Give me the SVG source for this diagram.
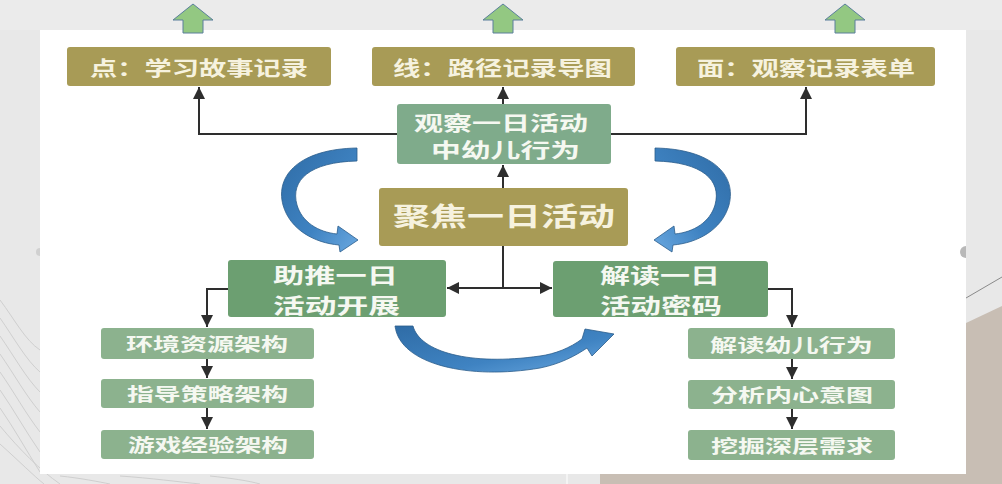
<svg xmlns="http://www.w3.org/2000/svg" width="1002" height="484" viewBox="0 0 1002 484">
<style>
.olive{fill:#a89b56;}
.obs{fill:#7fab8b;}
.mid{fill:#6c9f71;}
.small{fill:#8cb28e;}
.t{font-family:"Noto Sans CJK SC","Noto Sans",sans-serif;font-weight:bold;}
.tw{fill:#f6f2df;}
.tg{fill:#f5f8f1;}
.conn{fill:none;stroke:#2e2e2e;stroke-width:2;}
.up{fill:#93c882;stroke:#5a7f9c;stroke-width:1;}
.blue{fill:url(#bg);stroke:#2b5d8c;stroke-width:0.8;}
.tex{fill:none;stroke:#cfcfcf;stroke-width:1;}
</style>
<defs>
<marker id="ah" markerWidth="12" markerHeight="12" refX="12" refY="6" orient="auto" markerUnits="userSpaceOnUse">
<path d="M0,0 L12,6 L0,12 Z" fill="#2e2e2e"/>
</marker>
<linearGradient id="bg" x1="0" y1="0" x2="1" y2="1">
<stop offset="0" stop-color="#2f6ca6"/>
<stop offset="0.6" stop-color="#3f83c2"/>
<stop offset="1" stop-color="#6aa8e0"/>
</linearGradient>
<path id="curveL" d="M357,148 C300,149 275,175 283,205 C290,230 315,243 339,245 L340,252 L358,240 L338,226 L337,234 C318,232 302,222 297,205 C290,180 310,162 357,161 Z"/>
<path id="upArrow" d="M0,0 L20,16 L10,16 L10,29 L-10,29 L-10,16 L-20,16 Z"/>
</defs>

<!-- background -->
<rect x="0" y="0" width="1002" height="484" fill="#e8e8e8"/>
<rect x="0" y="0" width="1002" height="30" fill="#ebebeb"/>
<polygon points="966,323 1002,306 1002,484 966,484" fill="#c8beb4"/>
<line x1="966" y1="298" x2="1002" y2="277" stroke="#8a8a8a" stroke-width="1"/>
<rect x="600" y="474" width="402" height="10" fill="#c8beb4"/>
<line x1="567" y1="474" x2="567" y2="484" stroke="#f4f4f4" stroke-width="2"/>
<g id="texture">
<path class="tex" d="M0,300 C15,320 25,340 40,350"/>
<path class="tex" d="M0,318 C14,338 26,360 40,372"/>
<path class="tex" d="M0,336 C14,356 26,378 40,392"/>
<path class="tex" d="M0,354 C14,374 26,396 40,412"/>
<path class="tex" d="M0,372 C14,392 26,414 40,432"/>
<path class="tex" d="M0,390 C14,410 26,432 40,452"/>
<path class="tex" d="M0,408 C14,428 26,450 40,472"/>
<path class="tex" d="M0,426 C20,450 40,470 60,484"/>
<path class="tex" d="M0,444 C20,462 34,476 44,484"/>
<path class="tex" d="M60,476 C80,478 100,482 110,484"/>
<path class="tex" d="M120,476 C150,478 180,482 200,484"/>
<path class="tex" d="M210,476 C230,478 250,481 260,484"/>
</g>
<rect x="40" y="30" width="926" height="444" fill="#ffffff"/>
<path d="M966,246 A6,6 0 0,0 966,258 Z" fill="#b8b8b8"/>
<path d="M40,248 A4,4 0 0,0 40,256 Z" fill="#d0d0d0"/>

<!-- green up arrows -->
<use href="#upArrow" class="up" transform="translate(193,4)"/>
<use href="#upArrow" class="up" transform="translate(503,4)"/>
<use href="#upArrow" class="up" transform="translate(845,4)"/>

<!-- blue curved arrows -->
<g id="curves">
<use href="#curveL" class="blue"/>
<use href="#curveL" class="blue" transform="translate(1012,0) scale(-1,1)"/>
<path class="blue" d="M395,326 C400,365 470,380 540,368 C560,364 575,356 587,348 L592,356 L614,334 L585,329 L582,339 C570,348 555,354 540,356 C470,366 420,352 413,326 Z"/>
</g>

<!-- connectors -->
<g id="connectors">
<path class="conn" d="M397,134 H199 V87" marker-end="url(#ah)"/>
<path class="conn" d="M611,134 H806 V87" marker-end="url(#ah)"/>
<path class="conn" d="M503,104 V87" marker-end="url(#ah)"/>
<path class="conn" d="M503,188 V165" marker-end="url(#ah)"/>
<path class="conn" d="M503,246 V288 H447" marker-end="url(#ah)"/>
<path class="conn" d="M503,288 H552" marker-end="url(#ah)"/>
<path class="conn" d="M228,289 H207 V327" marker-end="url(#ah)"/>
<path class="conn" d="M207,359 V378" marker-end="url(#ah)"/>
<path class="conn" d="M207,408 V429" marker-end="url(#ah)"/>
<path class="conn" d="M768,289 H792 V327" marker-end="url(#ah)"/>
<path class="conn" d="M792,359 V379" marker-end="url(#ah)"/>
<path class="conn" d="M792,409 V429" marker-end="url(#ah)"/>
</g>

<!-- top boxes -->
<g id="point">
<rect class="olive" x="67" y="47" width="264" height="39" rx="3"/>
<text class="t tw" x="90" y="76" font-size="20" textLength="218" lengthAdjust="spacingAndGlyphs">点：学习故事记录</text>
</g>
<g id="line">
<rect class="olive" x="372" y="47" width="263" height="39" rx="3"/>
<text class="t tw" x="393" y="76" font-size="20" textLength="219" lengthAdjust="spacingAndGlyphs">线：路径记录导图</text>
</g>
<g id="face">
<rect class="olive" x="676" y="47" width="259" height="39" rx="3"/>
<text class="t tw" x="697" y="76" font-size="20" textLength="218" lengthAdjust="spacingAndGlyphs">面：观察记录表单</text>
</g>

<g id="observe">
<rect class="obs" x="397" y="104" width="214" height="60" rx="3"/>
<text class="t tg" x="414" y="131" font-size="20" textLength="174" lengthAdjust="spacingAndGlyphs">观察一日活动</text>
<text class="t tg" x="431" y="158" font-size="20" textLength="149" lengthAdjust="spacingAndGlyphs">中幼儿行为</text>
</g>

<g id="focus">
<rect class="olive" x="379" y="188" width="249" height="58" rx="3"/>
<text class="t tw" x="393" y="226" font-size="26" textLength="222" lengthAdjust="spacingAndGlyphs">聚焦一日活动</text>
</g>

<g id="promote">
<rect class="mid" x="228" y="260" width="218" height="57" rx="3"/>
<text class="t tg" x="273" y="283" font-size="21" textLength="125" lengthAdjust="spacingAndGlyphs">助推一日</text>
<text class="t tg" x="273" y="313" font-size="21" textLength="127" lengthAdjust="spacingAndGlyphs">活动开展</text>
</g>

<g id="decode">
<rect class="mid" x="553" y="261" width="215" height="56" rx="3"/>
<text class="t tg" x="600" y="283" font-size="21" textLength="120" lengthAdjust="spacingAndGlyphs">解读一日</text>
<text class="t tg" x="600" y="313" font-size="21" textLength="122" lengthAdjust="spacingAndGlyphs">活动密码</text>
</g>

<g id="env">
<rect class="small" x="101" y="328" width="213" height="31" rx="3"/>
<text class="t tg" x="126" y="351" font-size="18" textLength="162" lengthAdjust="spacingAndGlyphs">环境资源架构</text>
</g>
<g id="guide">
<rect class="small" x="101" y="379" width="213" height="29" rx="3"/>
<text class="t tg" x="127" y="401" font-size="18" textLength="161" lengthAdjust="spacingAndGlyphs">指导策略架构</text>
</g>
<g id="game">
<rect class="small" x="101" y="430" width="213" height="29" rx="3"/>
<text class="t tg" x="128" y="452" font-size="18" textLength="160" lengthAdjust="spacingAndGlyphs">游戏经验架构</text>
</g>

<g id="readBehavior">
<rect class="small" x="688" y="328" width="207" height="31" rx="3"/>
<text class="t tg" x="710" y="352" font-size="18" textLength="163" lengthAdjust="spacingAndGlyphs">解读幼儿行为</text>
</g>
<g id="analyze">
<rect class="small" x="688" y="380" width="207" height="29" rx="3"/>
<text class="t tg" x="711" y="402" font-size="18" textLength="162" lengthAdjust="spacingAndGlyphs">分析内心意图</text>
</g>
<g id="dig">
<rect class="small" x="688" y="430" width="207" height="30" rx="3"/>
<text class="t tg" x="711" y="453" font-size="18" textLength="162" lengthAdjust="spacingAndGlyphs">挖掘深层需求</text>
</g>
</svg>
